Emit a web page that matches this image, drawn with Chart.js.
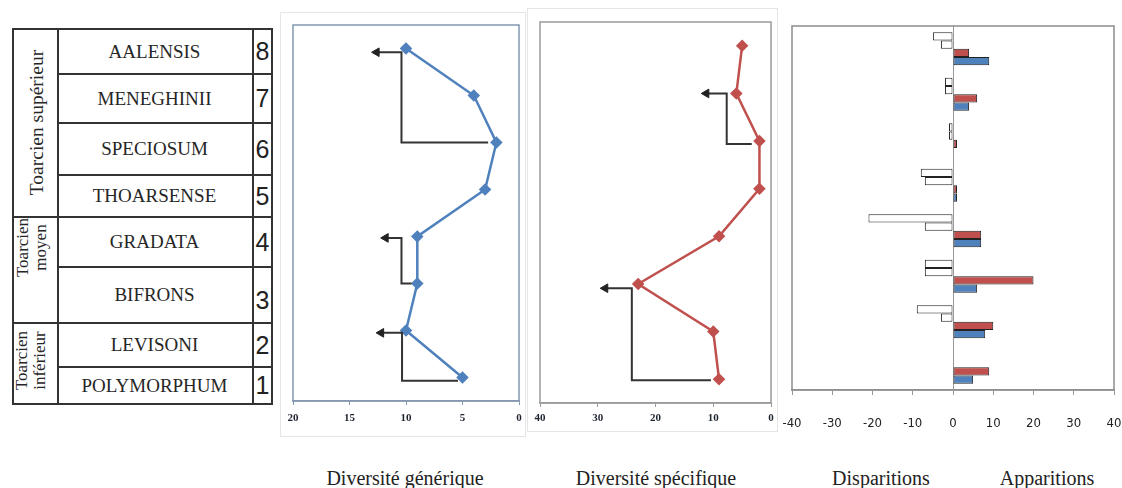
<!DOCTYPE html>
<html><head><meta charset="utf-8">
<script src="https://cdn.jsdelivr.net/npm/chart.js@4.4.1/dist/chart.umd.min.js"></script>
<style>
html,body{margin:0;padding:0;background:#fff;}
body{width:1122px;height:488px;position:relative;overflow:hidden;font-family:'Liberation Serif','Times New Roman',serif;color:#222;}
canvas{position:absolute;}
.ln{position:absolute;background:#333;}
.zone{position:absolute;display:flex;align-items:center;justify-content:center;font-size:19px;color:#262626;}
.num{position:absolute;display:flex;align-items:center;justify-content:center;font-family:'Liberation Sans',Arial,sans-serif;font-size:25px;color:#222;}
.stage{position:absolute;display:flex;align-items:center;justify-content:center;text-align:center;color:#262626;transform:rotate(-90deg);white-space:nowrap;}
.cap{position:absolute;top:465px;font-size:20px;line-height:26px;transform:translateX(-50%);white-space:nowrap;color:#222;}
</style></head>
<body>
<div id="strat"></div>
<canvas id="c1" width="246" height="425" style="left:280px;top:12px"></canvas>
<canvas id="c2" width="251" height="424" style="left:527px;top:8px"></canvas>
<canvas id="c3" width="342" height="430" style="left:780px;top:10px"></canvas>
<div id="caps"></div>
<script>
// ---------- DATA ----------
const zones = ['AALENSIS','MENEGHINII','SPECIOSUM','THOARSENSE','GRADATA','BIFRONS','LEVISONI','POLYMORPHUM'];
const zoneNumbers = [8,7,6,5,4,3,2,1];
const stages = [['Toarcien supérieur'],['Toarcien','moyen'],['Toarcien','inférieur']];
const stageZoneCounts = [4,2,2];

const genericDiversity  = [10,4,2,3,9,9,10,5];
const specificDiversity = [5,6,2,2,9,23,10,9];

const disparitionsGeneric  = [-5,-2,-1,-8,-21,-7,-9,0];
const disparitionsSpecific = [-3,-2,-1,-7,-7,-7,-3,0];
const apparitionsSpecific  = [4,6,1,1,7,20,10,9];
const apparitionsGeneric   = [9,4,0,1,7,6,8,5];

// bracket arrows (data units: x = diversity, y = zone number)
const genericArrows = [
  [[2.73,6.0],[10.4,6.0],[10.4,7.92],[12.6,7.92]],
  [[9.5,3.0],[10.4,3.0],[10.4,3.97],[11.8,3.97]],
  [[5.4,0.93],[10.35,0.93],[10.35,1.95],[12.2,1.95]]
];
const specificArrows = [
  [[3.34,5.94],[7.67,5.94],[7.67,7.0],[11.2,7.0]],
  [[10.4,0.98],[24.1,0.98],[24.1,2.91],[28.7,2.91]]
];

const genericTicks = {min:0,max:20,step:5};
const specificTicks = {min:0,max:40,step:10};
const barTicks = {min:-40,max:40,step:10};
const captions = ['Diversité générique','Diversité spécifique','Disparitions','Apparitions'];

// ---------- STRATIGRAPHIC COLUMN (layout) ----------
(function(){
const L = {x0:12,xg:57,xn:252,x1:271, rows:[28,73,122,174,216,266,322,366,403]};
const stageStyle = [{size:19.5,lh:20,dx:0,dy:0},{size:17,lh:18,dx:-5,dy:-22},{size:17,lh:18,dx:-5,dy:-2}];
const capX = [405,656,881,1047];
const strat = document.getElementById('strat');
function line(x,y,w,h){const d=document.createElement('div');d.className='ln';Object.assign(d.style,{left:x+'px',top:y+'px',width:w+'px',height:h+'px'});strat.appendChild(d);}
const R=L.rows, yTop=R[0], yBot=R[R.length-1];
line(L.x0,yTop,L.x1-L.x0+1.5,1.5); line(L.x0,yBot,L.x1-L.x0+1.5,1.5);
line(L.x0,yTop,1.5,yBot-yTop); line(L.x1,yTop,1.5,yBot-yTop);
line(L.xg,yTop,1.5,yBot-yTop); line(L.xn,yTop,1.5,yBot-yTop);
for(let i=1;i<R.length-1;i++) line(L.xg,R[i],L.x1-L.xg,1.5);
zones.forEach((z,i)=>{
  const d=document.createElement('div');d.className='zone';
  Object.assign(d.style,{left:L.xg+'px',top:(R[i]+1)+'px',width:(L.xn-L.xg)+'px',height:(R[i+1]-R[i])+'px'});
  d.textContent=z;strat.appendChild(d);
  const n=document.createElement('div');n.className='num';
  const extra = zoneNumbers[i]===3?6:1;
  Object.assign(n.style,{left:(L.xn+1)+'px',top:(R[i]+extra)+'px',width:(L.x1-L.xn)+'px',height:(R[i+1]-R[i])+'px'});
  n.textContent=zoneNumbers[i];strat.appendChild(n);
});
let ri=0;
stages.forEach((s,k)=>{
  const y0=R[ri], y1=R[ri+stageZoneCounts[k]]; ri+=stageZoneCounts[k];
  if(k>0) line(L.x0,y0,L.xg-L.x0,1.5);
  const st=stageStyle[k];
  const w=L.xg-L.x0, h=y1-y0, cx=L.x0+w/2+1+st.dx, cy=y0+h/2+st.dy;
  const d=document.createElement('div');d.className='stage';
  Object.assign(d.style,{left:(cx-h/2)+'px',top:(cy-w/2)+'px',width:h+'px',height:w+'px',fontSize:st.size+'px',lineHeight:st.lh+'px'});
  d.innerHTML=s.join('<br>');strat.appendChild(d);
});
const capsEl=document.getElementById('caps');
captions.forEach((t,i)=>{const d=document.createElement('div');d.className='cap';d.style.left=capX[i]+'px';d.textContent=t;capsEl.appendChild(d);});
})();

// ---------- CHARTS ----------
Chart.defaults.animation=false;
Chart.defaults.plugins.legend.display=false;
Chart.defaults.plugins.tooltip.enabled=false;

function framePlugin(plotColor, frameColor){
  return {id:'frame',
    beforeDraw(chart){const c=chart.ctx;if(frameColor){c.save();c.strokeStyle=frameColor;c.lineWidth=1;c.strokeRect(0.5,0.5,chart.width-1,chart.height-1);c.restore();}},
    afterDatasetsDraw(chart){const a=chart.chartArea,c=chart.ctx;c.save();c.strokeStyle=plotColor;c.lineWidth=1.5;c.strokeRect(a.left,a.top,a.right-a.left,a.bottom-a.top);c.restore();}
  };
}
function fixAxis(h){return s=>{s.height=h;s.paddingLeft=0;s.paddingRight=0;};}
function arrowSets(arr){
  return arr.map(pts=>({
    data:pts.map(p=>({x:p[0],y:p[1]})),
    showLine:true,borderColor:'#333',borderWidth:2,tension:0,
    pointStyle:'triangle',rotation:-90,
    pointRadius:pts.map((p,i)=>i===pts.length-1?5:0),
    pointBackgroundColor:'#222',pointBorderColor:'#222',pointBorderWidth:1
  }));
}
function diversityChart(id, values, color, arrows, tk, pad, axisH, plotColor, tickPad){
  return new Chart(document.getElementById(id),{
    type:'scatter',
    data:{datasets:[
      ...arrowSets(arrows),
      {data:values.map((v,i)=>({x:v,y:zoneNumbers[i]})),showLine:true,borderColor:color,borderWidth:2.5,
       pointStyle:'rectRot',pointRadius:4.5,pointBackgroundColor:color,pointBorderColor:color}
    ]},
    options:{responsive:false,layout:{padding:pad},
      scales:{
        x:{type:'linear',min:tk.min,max:tk.max,reverse:true,
           afterFit:fixAxis(axisH),
           ticks:{stepSize:tk.step,color:'#1e2430',padding:tickPad,font:{family:"'Liberation Serif',serif",size:11,weight:'bold'}},
           grid:{drawOnChartArea:false,tickLength:4,color:plotColor},border:{color:plotColor,width:1.5}},
        y:{type:'linear',min:0.5,max:8.5,display:false}
      }},
    plugins:[framePlugin(plotColor,'#e6e6e6')]
  });
}
diversityChart('c1',genericDiversity,'#4f81bd',genericArrows,genericTicks,{left:13,right:4,top:13,bottom:0},36,'#8497b0',7);
diversityChart('c2',specificDiversity,'#c0504d',specificArrows,specificTicks,{left:13,right:7,top:14,bottom:0},29,'#9a9a9a',5);

new Chart(document.getElementById('c3'),{
  type:'bar',
  data:{labels:zones,datasets:[
    {data:disparitionsGeneric,backgroundColor:'#ffffff'},
    {data:disparitionsSpecific,backgroundColor:'#ffffff'},
    {data:apparitionsSpecific,backgroundColor:'#c0504d'},
    {data:apparitionsGeneric,backgroundColor:'#4f81bd'}
  ].map(d=>Object.assign(d,{borderColor:'#222',borderWidth:1,borderSkipped:false,categoryPercentage:0.73,barPercentage:1}))},
  options:{responsive:false,indexAxis:'y',layout:{padding:{left:12,right:8,top:16,bottom:0}},
    scales:{
      x:{type:'linear',min:barTicks.min,max:barTicks.max,
         afterFit:fixAxis(50),
         ticks:{stepSize:barTicks.step,color:'#222',padding:21,font:{family:"'Liberation Sans Narrow','DejaVu Sans Condensed',sans-serif",size:13}},
         grid:{drawOnChartArea:true,tickLength:5,tickColor:'#999',color:c=>c.tick&&c.tick.value===0?'#999':'rgba(0,0,0,0)'},
         border:{color:'#999',width:1.5}},
      y:{display:false}
    }},
  plugins:[framePlugin('#8c8c8c',null)]
});
</script>
</body></html>
